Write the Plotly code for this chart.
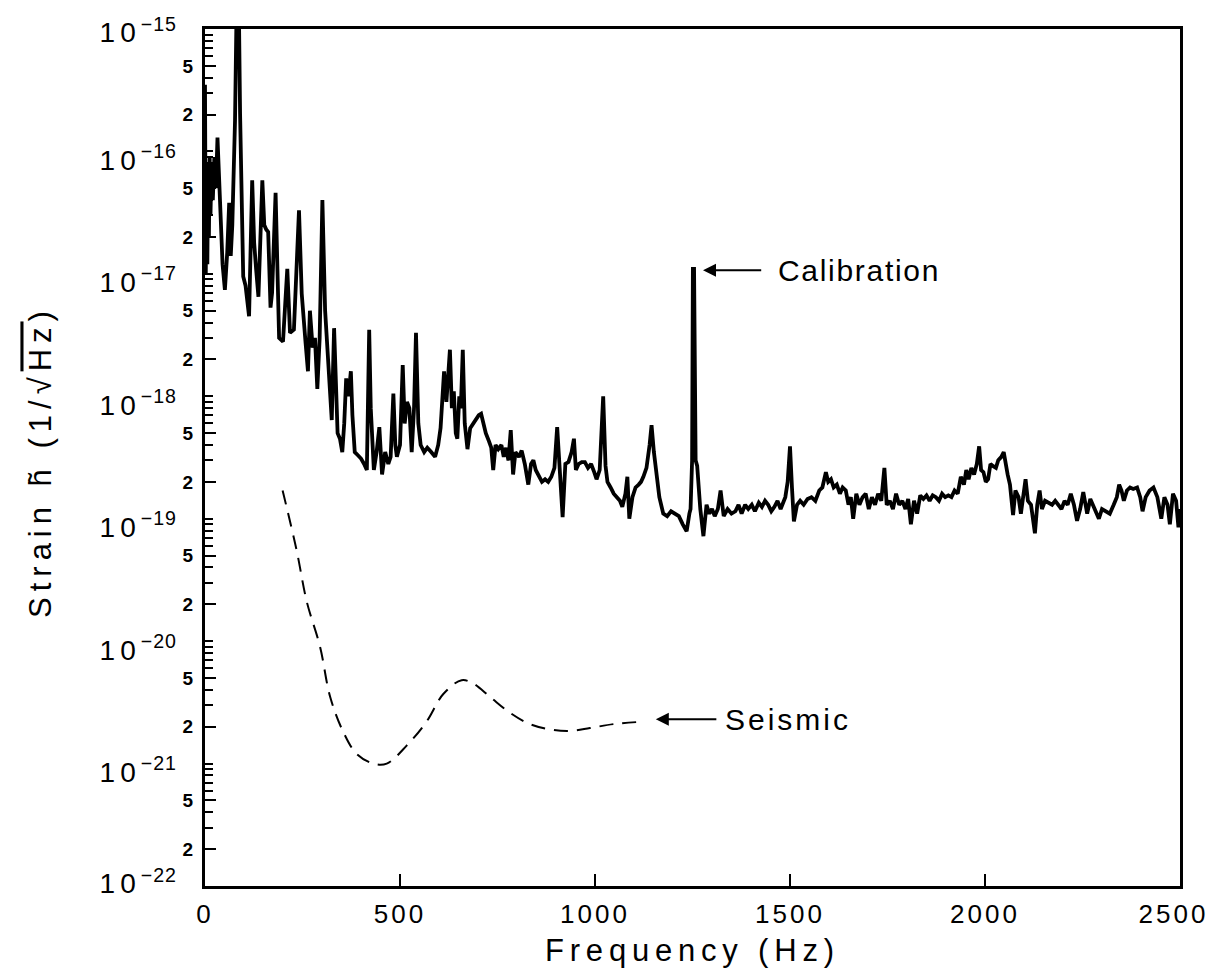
import math
import plotly.graph_objects as go

# ---------------- data ----------------
freq_hz = [0, 2, 4, 6, 8, 10, 12, 14, 17, 20, 24, 28, 32, 38, 45, 51, 57, 62, 66, 70,
           77, 82, 86, 90, 94, 98, 104, 113, 121, 126, 131, 137, 147, 152, 157, 162, 168, 172, 181, 185,
           190, 200, 211, 218, 228, 241, 248, 258, 264, 269, 276, 282, 288, 294, 301, 308, 314, 318, 325, 331,
           336, 340, 346, 352, 357, 362, 368, 374, 378, 384, 392, 400, 408, 415, 421, 425, 433, 440, 447, 454,
           462, 470, 476, 483, 488, 492, 500, 507, 512, 518, 524, 530, 536, 541, 547, 553, 562, 570, 580, 590,
           598, 604, 613, 619, 628, 633, 638, 643, 647, 652, 656, 661, 666, 673, 680, 688, 696, 702, 708, 714,
           720, 728, 734, 739, 745, 752, 760, 766, 772, 778, 784, 790, 796, 805, 812, 820, 829, 836, 842, 848,
           856, 864, 872, 880, 888, 896, 903, 909, 917, 924, 932, 940, 946, 951, 958, 966, 974, 982, 990, 998,
           1004, 1012, 1021, 1027, 1032, 1040, 1048, 1056, 1064, 1070, 1078, 1083, 1088, 1096, 1104, 1112, 1118, 1124, 1132, 1140,
           1145, 1151, 1158, 1165, 1175, 1185, 1195, 1205, 1215, 1225, 1235, 1242, 1245, 1249, 1251, 1254, 1258, 1262, 1270, 1278,
           1286, 1293, 1300, 1307, 1315, 1322, 1330, 1340, 1350, 1360, 1368, 1376, 1385, 1393, 1402, 1410, 1420, 1428, 1436, 1444,
           1452, 1460, 1468, 1476, 1488, 1494, 1500, 1505, 1510, 1518, 1526, 1535, 1545, 1555, 1565, 1575, 1583, 1592, 1598, 1605,
           1612, 1620, 1628, 1635, 1643, 1650, 1656, 1662, 1670, 1678, 1686, 1694, 1702, 1710, 1718, 1726, 1734, 1742, 1748, 1756,
           1764, 1772, 1780, 1788, 1796, 1803, 1810, 1818, 1826, 1834, 1842, 1850, 1858, 1866, 1874, 1882, 1890, 1898, 1906, 1914,
           1922, 1930, 1938, 1946, 1952, 1958, 1965, 1972, 1979, 1985, 1990, 1996, 2002, 2008, 2014, 2020, 2028, 2034, 2042, 2048,
           2054, 2058, 2064, 2072, 2078, 2086, 2092, 2100, 2104, 2110, 2118, 2128, 2134, 2140, 2146, 2154, 2162, 2172, 2180, 2188,
           2196, 2204, 2212, 2220, 2228, 2236, 2244, 2252, 2262, 2270, 2280, 2292, 2300, 2310, 2320, 2330, 2338, 2344, 2350, 2356,
           2364, 2372, 2380, 2390, 2398, 2404, 2412, 2422, 2432, 2442, 2452, 2460, 2468, 2474, 2482, 2490, 2496, 2500]

strain = [3.5e-16, 1.0e-17, 8e-17, 1.2e-17, 7e-17, 2e-17, 9e-17, 3e-17, 8e-17, 4e-17, 9e-17, 5e-17, 1.3e-16, 3.5e-17, 1.2e-17, 7.4e-18, 1.5e-17, 3.8e-17, 1.4e-17, 2.5e-17,
          1.8e-16, 2.5e-15, 2.5e-15, 2e-16, 5e-17, 9.5e-18, 8e-18, 4.5e-18, 5.8e-17, 1.8e-17, 1.1e-17, 6.5e-18, 5.8e-17, 2.5e-17, 2.3e-17, 2.2e-17, 5.3e-18, 7e-18, 4.6e-17, 1.6e-17,
          3e-18, 2.8e-18, 1.1e-17, 3.3e-18, 3.5e-18, 3.3e-17, 6.9e-18, 2.7e-18, 1.6e-18, 5e-18, 2.5e-18, 3e-18, 1.15e-18, 3e-18, 4e-17, 5e-18, 2.5e-18, 1.5e-18, 6.4e-19, 3.6e-18,
          9e-19, 5e-19, 4.5e-19, 3.5e-19, 6e-19, 1.4e-18, 1e-18, 1.6e-18, 7e-19, 3.5e-19, 3.3e-19, 3.1e-19, 2.8e-19, 2.5e-19, 3.5e-18, 8e-19, 2.5e-19, 3.5e-19, 5.6e-19, 2.3e-19,
          3.5e-19, 2.8e-19, 3.2e-19, 1.05e-18, 4e-19, 3.2e-19, 4e-19, 1.8e-18, 6e-19, 9e-19, 8e-19, 3.5e-19, 8e-19, 3.3e-18, 6e-19, 4e-19, 3.5e-19, 3.8e-19, 3.5e-19, 3.2e-19,
          4e-19, 5.5e-19, 1.6e-18, 9e-19, 2.4e-18, 8e-19, 1.1e-18, 5e-19, 4.5e-19, 1e-18, 8e-19, 2.4e-18, 6e-19, 3.7e-19, 5.5e-19, 6e-19, 6.5e-19, 7e-19, 7.2e-19, 6e-19,
          5e-19, 4.3e-19, 3.8e-19, 2.5e-19, 4e-19, 3.7e-19, 4e-19, 3.2e-19, 3.8e-19, 3e-19, 5.3e-19, 2.3e-19, 3.5e-19, 3.2e-19, 3.6e-19, 2.8e-19, 1.9e-19, 2.8e-19, 3e-19, 2.5e-19,
          2.2e-19, 2e-19, 2.1e-19, 2e-19, 2.2e-19, 2.6e-19, 5.6e-19, 2.5e-19, 1.03e-19, 2.8e-19, 2.9e-19, 3.5e-19, 4.5e-19, 2.5e-19, 2.8e-19, 2.9e-19, 2.9e-19, 2.6e-19, 2.8e-19, 2.4e-19,
          2.1e-19, 2.5e-19, 1e-18, 2.7e-19, 2e-19, 1.8e-19, 1.6e-19, 1.5e-19, 1.4e-19, 1.25e-19, 1.6e-19, 2.2e-19, 1e-19, 1.5e-19, 1.8e-19, 1.9e-19, 2e-19, 2.2e-19, 2.6e-19, 4e-19,
          5.8e-19, 3.5e-19, 2.3e-19, 1.5e-19, 1.1e-19, 1.05e-19, 1.15e-19, 1.1e-19, 1.05e-19, 9e-20, 7.9e-20, 1.1e-19, 1.2e-19, 3e-19, 1.1e-17, 1.1e-17, 3e-19, 2.7e-19, 1.2e-19, 7.2e-20,
          1.3e-19, 1.1e-19, 1.2e-19, 1.05e-19, 1.2e-19, 1.7e-19, 1.05e-19, 1.2e-19, 1.1e-19, 1.15e-19, 1.3e-19, 1.1e-19, 1.3e-19, 1.2e-19, 1.3e-19, 1.15e-19, 1.35e-19, 1.25e-19, 1.4e-19, 1.3e-19,
          1.15e-19, 1.25e-19, 1.4e-19, 1.2e-19, 1.5e-19, 2e-19, 3.9e-19, 1.8e-19, 9.5e-20, 1.3e-19, 1.4e-19, 1.3e-19, 1.45e-19, 1.5e-19, 1.4e-19, 1.7e-19, 1.8e-19, 2.4e-19, 2e-19, 2.1e-19,
          1.8e-19, 1.9e-19, 1.6e-19, 1.8e-19, 1.7e-19, 1.3e-19, 1.5e-19, 1e-19, 1.6e-19, 1.3e-19, 1.5e-19, 1.6e-19, 1.2e-19, 1.5e-19, 1.3e-19, 1.6e-19, 1.4e-19, 2.6e-19, 1.3e-19, 1.4e-19,
          1.2e-19, 1.6e-19, 1.3e-19, 1.4e-19, 1.2e-19, 1.45e-19, 9e-20, 1.4e-19, 1.1e-19, 1.55e-19, 1.45e-19, 1.55e-19, 1.4e-19, 1.55e-19, 1.5e-19, 1.4e-19, 1.6e-19, 1.5e-19, 1.55e-19, 1.5e-19,
          1.7e-19, 1.6e-19, 2.2e-19, 1.9e-19, 2.5e-19, 2.1e-19, 2.6e-19, 2.3e-19, 2.8e-19, 3.9e-19, 2.5e-19, 2.4e-19, 2e-19, 2.1e-19, 2.8e-19, 2.7e-19, 2.6e-19, 3e-19, 3.2e-19, 3.5e-19,
          2.6e-19, 2.3e-19, 1.9e-19, 1.07e-19, 1.7e-19, 1.5e-19, 1.1e-19, 1.6e-19, 2.1e-19, 1.4e-19, 1.3e-19, 7.6e-20, 1.3e-19, 1.7e-19, 1.2e-19, 1.4e-19, 1.35e-19, 1.3e-19, 1.4e-19, 1.3e-19,
          1.2e-19, 1.4e-19, 1.3e-19, 1.6e-19, 1.3e-19, 9.6e-20, 1.2e-19, 1.65e-19, 1.1e-19, 1.45e-19, 1.2e-19, 1e-19, 1.2e-19, 1.15e-19, 1.1e-19, 1.3e-19, 1.5e-19, 1.9e-19, 1.7e-19, 1.4e-19,
          1.7e-19, 1.8e-19, 1.75e-19, 1.8e-19, 1.5e-19, 1.15e-19, 1.5e-19, 1.7e-19, 1.8e-19, 1.5e-19, 1e-19, 1.5e-19, 1.3e-19, 9e-20, 1.6e-19, 1.4e-19, 8.5e-20, 1.2e-19]

seismic_hz = [199, 235, 261, 295, 321, 355, 389, 432, 466, 517, 568, 611, 658, 688, 731, 782, 833, 885, 936, 987, 1047, 1124]
seismic_strain = [1.7e-19, 5.5e-20, 2.1e-20, 9e-21, 3.5e-21, 1.8e-21, 1.2e-21, 1.0e-21, 1.0e-21, 1.4e-21, 2.2e-21,
                  3.7e-21, 4.8e-21, 4.5e-21, 3.5e-21, 2.6e-21, 2.1e-21, 1.9e-21, 1.85e-21, 1.95e-21, 2.1e-21, 2.2e-21]

x_tick_vals = [0, 500, 1000, 1500, 2000, 2500]
x_tick_text = ["0", "500", "1000", "1500", "2000", "2500"]
y_decades = [-22, -21, -20, -19, -18, -17, -16, -15]
y_labeled_mantissas = [2, 5]
y_minor_mantissas = [1, 3, 4, 6, 7, 8, 9]

calibration_label = "Calibration"
calibration_arrow = dict(tip_hz=1277, tail_hz=1430, strain=1.07e-17)
seismic_label = "Seismic"
seismic_arrow = dict(tip_hz=1156, tail_hz=1315, strain=2.3e-21)

# ---------------- style ----------------
FONT = "Liberation Sans, Arial, Helvetica, sans-serif"


def spaced(text, px):
    return f"<span style='letter-spacing:{px}px'>{text}</span>"


def decade_label_offset(d):
    # decade labels sit slightly below their tick, as in the printed figure
    if d == y_decades[0]:
        return 0.02
    if d == y_decades[-1]:
        return -0.03
    return -0.07


fig = go.Figure()

fig.add_trace(go.Scatter(x=freq_hz, y=strain, mode="lines",
                         line=dict(color="black", width=3.8), showlegend=False))
fig.add_trace(go.Scatter(x=seismic_hz, y=seismic_strain, mode="lines", line_shape="spline",
                         line=dict(color="black", width=2, dash="14px,9px"), showlegend=False))

labeled_vals = [m * 10.0 ** d for d in y_decades[:-1] for m in y_labeled_mantissas]
labeled_text = [f"<b>{m}</b>" for d in y_decades[:-1] for m in y_labeled_mantissas]
minor_vals = [m * 10.0 ** d for d in y_decades[:-1] for m in y_minor_mantissas] + [10.0 ** y_decades[-1]]
decade_label_vals = [10.0 ** (d + decade_label_offset(d)) for d in y_decades]
decade_text = [spaced("10", 5) + f"<sup>{spaced('−' + str(-d), 1)}</sup>" for d in y_decades]

x_labels = [spaced(t, 3) for t in x_tick_text]
x_labels[-1] = x_labels[-1] + "\u2002"  # nudge the last label left, as printed

fig.update_layout(
    width=1201, height=960,
    margin=dict(l=197, r=29, t=21, b=82, autoexpand=False),
    plot_bgcolor="white", paper_bgcolor="white",
    font=dict(family=FONT, color="black"),
    xaxis=dict(
        range=[0, 2500], tickmode="array", tickvals=x_tick_vals,
        ticktext=x_labels,
        ticks="inside", ticklen=12, tickwidth=1.5, tickcolor="black",
        showline=True, linewidth=3, linecolor="black", mirror=True,
        showgrid=False, zeroline=False, ticklabeloverflow="allow",
        tickfont=dict(size=26, family=FONT), ticklabelstandoff=3,
    ),
    yaxis=dict(
        type="log", range=[-22, -15], tickmode="array",
        tickvals=labeled_vals, ticktext=labeled_text,
        ticks="inside", ticklen=11, tickwidth=2, tickcolor="black",
        minor=dict(tickmode="array", tickvals=minor_vals, ticks="inside", ticklen=8,
                   tickwidth=2, tickcolor="black", showgrid=False),
        showline=True, linewidth=3, linecolor="black", mirror=True,
        showgrid=False, zeroline=False,
        tickfont=dict(size=19, family=FONT), ticklabelstandoff=5,
    ),
    yaxis2=dict(
        type="log", range=[-22, -15], overlaying="y", anchor="x", side="left",
        tickmode="array", tickvals=decade_label_vals, ticktext=decade_text,
        ticks="", showline=False, showgrid=False, zeroline=False,
        tickfont=dict(size=28, family=FONT), ticklabelstandoff=27,
    ),
)

# invisible trace so yaxis2 is drawn
fig.add_trace(go.Scatter(x=[None], y=[None], yaxis="y2", showlegend=False, hoverinfo="skip"))

annotations = [
    dict(x=0.5, y=-0.0747, xref="paper", yref="paper", xanchor="center", yanchor="middle",
         text=spaced("Frequency (Hz)", 5.8), showarrow=False, font=dict(size=31, family=FONT)),
    dict(x=-0.168, y=0.495, xref="paper", yref="paper", xanchor="center", yanchor="middle",
         textangle=-90,
         text=spaced("Strain h\u0303 (1/\u221a<span style='text-decoration:overline'>Hz</span>)", 6),
         showarrow=False, font=dict(size=31, family=FONT)),
    # calibration arrow + label
    dict(x=calibration_arrow["tip_hz"], y=math.log10(calibration_arrow["strain"]), xref="x", yref="y",
         ax=calibration_arrow["tail_hz"], ay=math.log10(calibration_arrow["strain"]), axref="x", ayref="y",
         text="", showarrow=True, arrowhead=2, arrowsize=1.3, arrowwidth=2, arrowcolor="black"),
    dict(x=calibration_arrow["tail_hz"] + 35, y=math.log10(calibration_arrow["strain"]), xref="x", yref="y",
         xanchor="left", yanchor="middle", text=spaced(calibration_label, 1.7), showarrow=False,
         font=dict(size=30, family=FONT)),
    # seismic arrow + label
    dict(x=seismic_arrow["tip_hz"], y=math.log10(seismic_arrow["strain"]), xref="x", yref="y",
         ax=seismic_arrow["tail_hz"], ay=math.log10(seismic_arrow["strain"]), axref="x", ayref="y",
         text="", showarrow=True, arrowhead=2, arrowsize=1.3, arrowwidth=2, arrowcolor="black"),
    dict(x=seismic_arrow["tail_hz"] + 12, y=math.log10(seismic_arrow["strain"]), xref="x", yref="y",
         xanchor="left", yanchor="middle", text=spaced(seismic_label, 3), showarrow=False,
         font=dict(size=30, family=FONT)),
]
fig.update_layout(annotations=annotations)

fig.write_html("out.html")
